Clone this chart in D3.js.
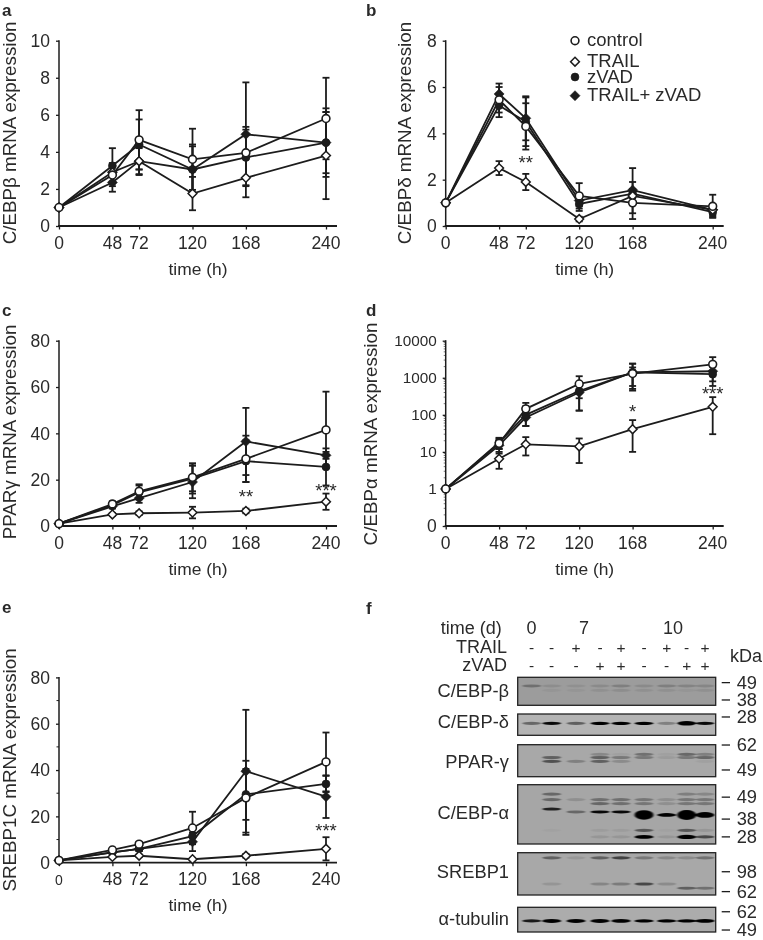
<!DOCTYPE html>
<html><head><meta charset="utf-8">
<script src="https://cdn.jsdelivr.net/npm/d3@7/dist/d3.min.js"></script>
<style>
html,body{margin:0;padding:0;background:#fff}
svg{display:block;filter:blur(0.5px)}
text{font-family:"Liberation Sans",Arial,sans-serif;fill:#2a2a2a}
</style></head><body><svg id="fig" width="763" height="940"></svg>
<script>
// ---- shared categories
const hours = [0,48,72,120,168,240];
const seriesNames = ["control","TRAIL","zVAD","TRAIL+ zVAD"];
const seriesKinds = ["openCircle","openDiamond","filledCircle","filledDiamond"];
const drawOrder = [3,2,1,0];

// ---- panel a: C/EBPβ
const aValues = [[1,2.75,4.65,3.6,3.95,5.8],[1,2.9,3.5,1.75,2.6,3.8],[1,3.25,4.4,3.05,3.7,4.5],[1,2.35,3.5,3.05,4.95,4.5]];
const aErrors = [[0,.6,1.6,1.65,1.4,2.2],[0,.5,.75,.9,1.05,2.35],[0,.95,1.35,1.35,1.5,1.85],[0,.5,.7,1.25,2.8,1.65]];
const aTicks = [0,2,4,6,8,10];
// ---- panel b: C/EBPδ
const bValues = [[1,5.45,4.3,1.3,1,.85],[1,2.5,1.9,.3,1.3,.7],[1,5.2,4.5,.95,1.4,.6],[1,5.7,4.65,1.1,1.55,.7]];
const bErrors = [[0,.55,1,.55,.45,.5],[0,.3,.35,.1,.3,.2],[0,.5,1.05,.3,1.1,.2],[0,.45,.95,.25,.35,.25]];
const bTicks = [0,2,4,6,8];
// ---- panel c: PPARγ
const cValues = [[1,9.5,15,21,29,41.5],[1,5,5.5,5.8,6.5,10.5],[1,9,14.5,20.5,28,25.5],[1,8.5,12,19,36.5,30.5]];
const cErrors = [[0,1.2,3,6,10,16.5],[0,.6,.8,2.5,1,3.5],[0,1,3,6.5,9,8],[0,1,2,7,14.5,1.5]];
const cTicks = [0,20,40,60,80];
// ---- panel d: C/EBPα (log axis, asymmetric errors)
const dValues = [[1,17,145,680,1300,2300],[1,6.5,16,14,41,165],[1,18,100,440,1400,1250],[1,15,85,400,1400,1500]];
const dLower = [[1,12,90,280,500,1400],[1,3.5,8,5,10,30],[1,12,50,130,450,600],[1,9,50,130,600,800]];
const dUpper = [[1,23,210,1100,2400,3600],[1,10,25,23,72,300],[1,24,170,700,2400,2000],[1,21,140,650,1900,2200]];
const dTicks = [.1,1,10,100,1000,10000];
const dTickLabels = ["0","1","10","100","1000","10000"];
// ---- panel e: SREBP1C
const eValues = [[1,5.5,8,15,28,43.5],[1,2.5,3,1.5,3,6],[1,4.5,6,11.5,29.5,34],[1,4.5,6,9,39.5,28.5]];
const eErrors = [[0,1,1,7,16,12.7],[0,.5,.5,.5,.8,5],[0,.8,1,3.5,11,3.5],[0,1,1,4,26.5,9.2]];
const eTicks = [0,20,40,60,80];

// ---- panel f: blot
const laneTime = ["0","7","10"];
const trailSigns = ["-","-","+","-","+","-","+","-","+"];
const zvadSigns  = ["-","-","-","+","+","-","-","+","+"];
const gelNames = ["C/EBP-β","C/EBP-δ","PPAR-γ","C/EBP-α","SREBP1","α-tubulin"];
const gelShades = ["#9c9c9c","#b4b4b4","#a8a8a8","#a6a6a6","#a8a8a8","#acacac"];
const gelMarkers = [[49,38],[28],[62,49],[49,38,28],[98,62],[62,49]];
const gelMarkerRf = [[.19,.81],[.14],[.01,.79],[.21,.58,.88],[.45,.92],[.18,.92]];
const gelTrackRf = [
 [.31,.47],[.44],[.30,.40,.52],
 [.16,.25,.32,.41,.46,.51,.77,.88],
 [.12,.74,.84],[.55]];
const gelTrackIntensity = [
 [[.3,.1,.08,.12,.2,.12,.2,.17,.15],[0,.05,.05,.08,.1,.08,.08,.05,.08]],
 [[.45,1,.5,1.1,1.1,1.1,.3,1.5,1]],
 [[0,0,0,.2,.05,.35,.05,.4,.25],[0,.45,0,.45,.3,.3,.08,.3,.4],[0,.55,.25,.45,.18,0,0,0,.05]],
 [[0,.4,0,0,0,0,0,.25,.2],[0,.4,.15,.35,.35,.3,.15,.3,.3],[0,0,0,.4,.35,.3,.15,.3,.3],[0,.85,0,0,0,0,0,0,0],
  [0,0,.4,1,1,0,0,0,0],[0,0,0,0,0,3.4,1.2,3.6,2],[0,.03,0,.06,.06,.5,.03,.5,.1],[0,0,0,.1,.1,1.3,.1,1.4,.6]],
 [[0,.45,.1,.45,.65,.3,.2,.18,.35],[0,.12,0,.22,.28,.6,.18,0,0],[0,0,0,0,0,0,0,.45,.35]],
 [[.9,1.3,1.3,1.3,1.2,1.1,1.1,1.1,1.2]]];

// ---- layout constants
const svg = d3.select("#fig");
const defs = svg.append("defs");
defs.append("filter").attr("id","bandBlur").attr("x","-30%").attr("y","-100%").attr("width","160%").attr("height","300%")
  .append("feGaussianBlur").attr("stdDeviation","1.3 .7");
const ink = "#1c1c1c";
const clearPaper = "#fff";

function drawMarker(g, kind, x, y){
  if(kind==="openCircle"||kind==="filledCircle"){
    g.append("circle").attr("cx",x).attr("cy",y).attr("r",3.9)
      .attr("fill",kind==="openCircle"?clearPaper:ink).attr("stroke",ink).attr("stroke-width",kind==="openCircle"?1.6:.8);
  } else {
    const open = kind==="openDiamond", s = open?4.4:5;
    g.append("path").attr("d",`M${x},${y-s}L${x+s},${y}L${x},${y+s}L${x-s},${y}Z`)
      .attr("fill",open?clearPaper:ink).attr("stroke",ink).attr("stroke-width",open?1.5:.6);
  }
}

function panel(o){
  const x = d3.scaleLinear().domain([0,240]).range([o.x0,o.x0+267]);
  const y = o.log ? d3.scaleLog().domain([.1,10000]).range([o.y0,o.y0-185.3])
                  : d3.scaleLinear().domain([0,o.ticks[o.ticks.length-1]]).range([o.y0,o.y0-185.3]);
  const g = svg.append("g");
  // error bars
  drawOrder.forEach(s=>{
    hours.forEach((h,i)=>{
      if(i===0) return;
      const lo = o.lower?o.lower[s][i]:o.values[s][i]-o.errors[s][i];
      const hi = o.upper?o.upper[s][i]:o.values[s][i]+o.errors[s][i];
      g.append("line").attr("x1",x(h)).attr("x2",x(h)).attr("y1",y(lo)).attr("y2",y(hi)).attr("stroke",ink).attr("stroke-width",1.8);
      [lo,hi].forEach(v=>g.append("line").attr("x1",x(h)-3.5).attr("x2",x(h)+3.5).attr("y1",y(v)).attr("y2",y(v)).attr("stroke",ink).attr("stroke-width",1.8));
    });
  });
  // axes
  const ax = g.append("g").attr("transform",`translate(0,${o.y0})`)
    .call(d3.axisBottom(x).tickValues(hours).tickSize(3.5).tickFormat(""));
  ax.select(".domain").remove();
  ax.append("line").attr("x1",o.x0-1).attr("x2",o.x0+278).attr("stroke",ink).attr("stroke-width",1.8);
  const ay = g.append("g").attr("transform",`translate(${o.x0},0)`)
    .call(d3.axisLeft(y).tickValues(o.ticks).tickSize(3).tickFormat(""));
  ay.select(".domain").remove();
  ay.append("line").attr("y1",o.y0+.5).attr("y2",o.y0-185.8).attr("stroke",ink).attr("stroke-width",1.5);
  g.selectAll(".tick line").attr("stroke",ink).attr("stroke-width",1.3);
  if(o.log){
    const minors=[]; o.ticks.slice(0,-1).forEach(t=>d3.range(2,10).forEach(m=>minors.push(t*m)));
    g.selectAll(null).data(minors).join("line").attr("x1",o.x0-2).attr("x2",o.x0).attr("y1",d=>y(d)).attr("y2",d=>y(d)).attr("stroke",ink).attr("stroke-width",.6);
  }
  if(o.minor){
    g.selectAll(null).data(o.minor).join("line").attr("x1",o.x0-2.5).attr("x2",o.x0).attr("y1",d=>y(d)).attr("y2",d=>y(d)).attr("stroke",ink).attr("stroke-width",1);
  }
  // lines
  const line = d3.line().x((d,i)=>x(hours[i])).y(d=>y(d));
  drawOrder.forEach(s=>g.append("path").attr("d",line(o.values[s])).attr("fill","none").attr("stroke",ink).attr("stroke-width",1.8));
  drawOrder.forEach(s=>hours.forEach((h,i)=>drawMarker(g,seriesKinds[s],x(h),y(o.values[s][i]))));
  // tick labels
  hours.forEach(h=>g.append("text").attr("x",x(h)).attr("y",o.y0+22.5).attr("text-anchor","middle")
    .attr("font-size",h===0&&o.smallZero?14:17.5).text(h));
  o.ticks.forEach((t,i)=>g.append("text").attr("x",o.x0-9).attr("y",y(t)+(o.log&&i>0?5.4:6.2)).attr("text-anchor","end")
    .attr("font-size",o.log&&i>0?15.3:17.5).text(o.tickLabels?o.tickLabels[i]:t));
  g.append("text").attr("x",o.x0+139).attr("y",o.y0+(o.timeDy||49)).attr("text-anchor","middle").attr("font-size",17.4).text("time (h)");
  g.append("text").attr("transform",`translate(${o.labelX},${o.labelY}) rotate(-90)`).attr("text-anchor","middle")
    .attr("font-size",18.8).text(o.label);
  svg.append("text").attr("x",o.letterX).attr("y",o.letterY).attr("font-size",17).attr("font-weight","bold").attr("fill","#111").text(o.letter);
  (o.stars||[]).forEach(st=>g.append("text").attr("x",x(st[0])).attr("y",y(st[1])+10).attr("text-anchor","middle")
     .attr("font-size",18.5).text(st[2]));
}

panel({x0:59,y0:226,values:aValues,errors:aErrors,ticks:aTicks,label:"C/EBPβ mRNA expression",labelX:16,labelY:133,letter:"a",letterX:2,letterY:15.5});
panel({x0:445.7,y0:226,values:bValues,errors:bErrors,ticks:bTicks,label:"C/EBPδ mRNA expression",labelX:410.5,labelY:133,letter:"b",letterX:366,letterY:15.5,stars:[[72,2.9,"**"]]});
panel({x0:59,y0:526,values:cValues,errors:cErrors,ticks:cTicks,label:"PPARγ mRNA expression",labelX:16,labelY:432,letter:"c",letterX:2,letterY:316,stars:[[168,14.2,"**"],[240,16.9,"***"]]});
panel({x0:445.7,y0:526,values:dValues,lower:dLower,upper:dUpper,ticks:dTicks,tickLabels:dTickLabels,log:true,label:"C/EBPα mRNA expression",labelX:377,labelY:434,letter:"d",letterX:366,letterY:316,stars:[[168,155,"*"],[240,467,"***"]]});
panel({x0:59,y0:862.7,values:eValues,errors:eErrors,ticks:eTicks,minor:[10,30,50,70],smallZero:true,timeDy:48,label:"SREBP1C mRNA expression",labelX:16,labelY:770,letter:"e",letterX:2,letterY:613,stars:[[240,15.6,"***"]]});

// legend
const legendRows = [40.7,61.7,77,95.7];
seriesNames.forEach((n,i)=>{
  drawMarker(svg,seriesKinds[i],575,legendRows[i]);
  svg.append("text").attr("x",587).attr("y",legendRows[i]+5.5).attr("font-size",18.5).text(n);
});

// panel f
svg.append("text").attr("x",366).attr("y",614).attr("font-size",17).attr("font-weight","bold").attr("fill","#111").text("f");
const lanePixels = [531.7,551.7,576,600,621,644,666.7,686.7,705];
const gelTop = [677.3,714,744.7,784.7,852.7,907.3];
const gelBottom = [705.3,735.3,776.7,844,895,932];
const gelLabelBase = [697,728,767.7,819,878,925];
const fs = 18;
svg.append("text").attr("x",501.7).attr("y",634).attr("text-anchor","end").attr("font-size",fs).text("time (d)");
svg.append("text").attr("x",507).attr("y",653).attr("text-anchor","end").attr("font-size",fs).text("TRAIL");
svg.append("text").attr("x",507).attr("y",671).attr("text-anchor","end").attr("font-size",fs).text("zVAD");
svg.append("text").attr("x",730).attr("y",661.6).attr("font-size",fs).text("kDa");
[531.5,584,673].forEach((px,i)=>svg.append("text").attr("x",px).attr("y",634).attr("text-anchor","middle").attr("font-size",fs).text(laneTime[i]));
trailSigns.forEach((s,i)=>svg.append("text").attr("x",lanePixels[i]).attr("y",653).attr("text-anchor","middle").attr("font-size",15.5).text(s));
zvadSigns.forEach((s,i)=>svg.append("text").attr("x",lanePixels[i]).attr("y",671).attr("text-anchor","middle").attr("font-size",15.5).text(s));

gelNames.forEach((name,gi)=>{
  const rf = d3.scaleLinear().domain([0,1]).range([gelTop[gi],gelBottom[gi]]);
  const g = svg.append("g");
  const clipId = "gel"+gi;
  defs.append("clipPath").attr("id",clipId).append("rect").attr("x",517.7).attr("y",gelTop[gi]).attr("width",198).attr("height",gelBottom[gi]-gelTop[gi]);
  g.append("rect").attr("x",517.7).attr("y",gelTop[gi]).attr("width",198).attr("height",gelBottom[gi]-gelTop[gi]).attr("fill",gelShades[gi]);
  const bands = g.append("g").attr("clip-path",`url(#${clipId})`).append("g").attr("filter","url(#bandBlur)");
  gelTrackRf[gi].forEach((r,ti)=>{
    gelTrackIntensity[gi][ti].forEach((v,li)=>{
      if(v<=0) return;
      const h = 2.6*Math.max(1,v);
      bands.append("ellipse").attr("cx",lanePixels[li]).attr("cy",rf(r)).attr("rx",9.5).attr("ry",h/2+.3)
        .attr("fill","#000").attr("opacity",Math.min(1,v*.95));
    });
  });
  g.append("rect").attr("x",517.7).attr("y",gelTop[gi]).attr("width",198).attr("height",gelBottom[gi]-gelTop[gi])
    .attr("fill","none").attr("stroke","#222").attr("stroke-width",1.3);
  g.append("text").attr("x",509).attr("y",gelLabelBase[gi]).attr("text-anchor","end").attr("font-size",18.3).text(name);
  gelMarkers[gi].forEach((m,mi)=>{
    const py = rf(gelMarkerRf[gi][mi]);
    g.append("line").attr("x1",721.7).attr("x2",730).attr("y1",py).attr("y2",py).attr("stroke",ink).attr("stroke-width",1.3);
    g.append("text").attr("x",736.7).attr("y",py+6.2).attr("font-size",18.3).text(m);
  });
});
</script></body></html>
